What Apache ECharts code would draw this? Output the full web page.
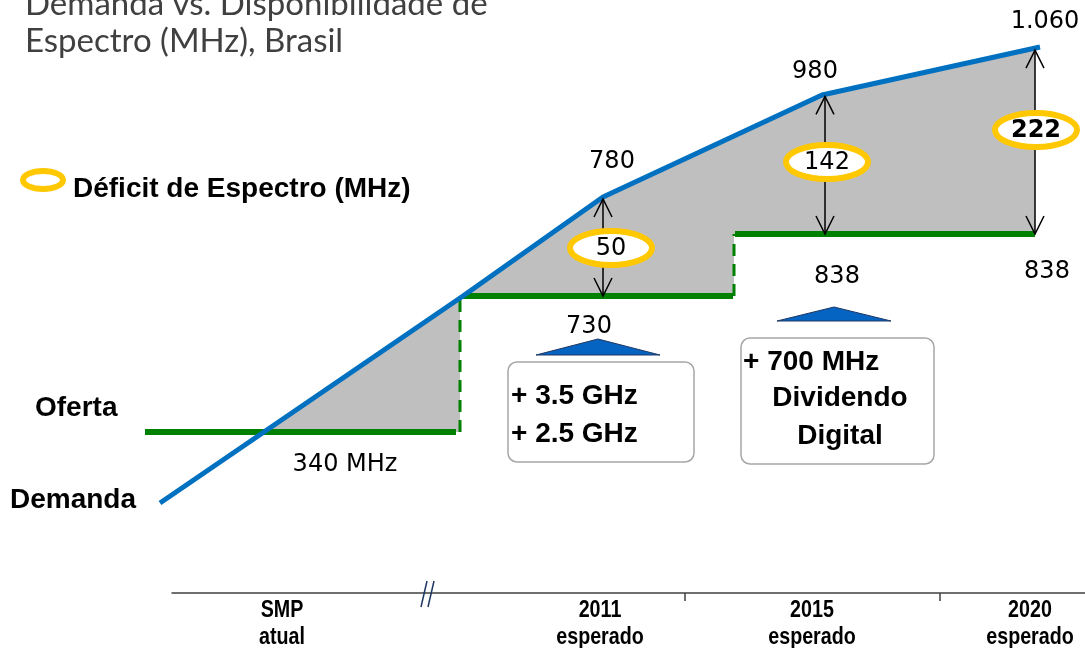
<!DOCTYPE html>
<html>
<head>
<meta charset="utf-8">
<script src="https://cdn.jsdelivr.net/npm/echarts@6/dist/echarts.min.js"></script>
<style>
  html, body { margin: 0; padding: 0; background: #fff; }
  #chart { width: 1085px; height: 648px; }
</style>
</head>
<body>
<div id="chart"></div>
<script>
// Curva de demanda (eixo esquemático: posição no tempo x nível)
const demandX = [160, 463, 603, 822, 1040];
const demandY = [145, 352, 451, 553, 601];

// Oferta em degraus
const supplyFrom = [145, 463, 735];
const supplyTo = [456, 733, 1035];
const supplyY = [216, 352, 414];
const jumpX = [460, 734];

// Déficit de espectro
const deficitX = [603, 825, 1035];
const deficitValues = [50, 142, 222];
const deficitMarkY = [400, 486, 518];

// Eixo do tempo
const periodX = [282, 600, 812, 1030];
const periodTop = ['SMP', '2011', '2015', '2020'];
const periodBottom = ['atual', 'esperado', 'esperado', 'esperado'];
const periodTicks = [685, 940];

const COLORS = {
    demand: '#0070C0',
    supply: '#008000',
    deficit: '#BFBFBF',
    ring: '#FFC800',
    text: '#000000'
};

const NUM_FONT = '"DejaVu Sans", sans-serif';
const BOLD_FONT = '"Liberation Sans", Arial, sans-serif';

// Interpola a demanda numa posição x
function demandAt(x) {
    for (let i = 0; i < demandX.length - 1; i++) {
        if (x >= demandX[i] && x <= demandX[i + 1]) {
            const t = (x - demandX[i]) / (demandX[i + 1] - demandX[i]);
            return demandY[i] + t * (demandY[i + 1] - demandY[i]);
        }
    }
    return demandY[demandY.length - 1];
}

function supplyAt(x) {
    for (let i = 0; i < supplyFrom.length; i++) {
        if (x >= supplyFrom[i] - 3 && x <= supplyTo[i] + 3) return supplyY[i];
    }
    return supplyY[0];
}

// Polígono cinza entre demanda e oferta
function deficitPolygon() {
    const y0 = supplyY[0];
    const x0 = demandX[0] + (y0 - demandY[0]) / (demandY[1] - demandY[0]) * (demandX[1] - demandX[0]);
    const xEnd = supplyTo[supplyTo.length - 1];
    const pts = [[x0, y0]];
    demandX.forEach((x, i) => {
        if (x > x0 && x < xEnd) pts.push([x, demandY[i]]);
    });
    pts.push([xEnd, demandAt(xEnd)]);
    pts.push([xEnd, supplyY[2]]);
    pts.push([jumpX[1], supplyY[2]]);
    pts.push([jumpX[1], supplyY[1]]);
    pts.push([jumpX[0], supplyY[1]]);
    pts.push([jumpX[0], supplyY[0]]);
    return pts;
}

const chart = echarts.init(document.getElementById('chart'));

function txt(x, y, text, font, opts, extra) {
    return Object.assign({
        type: 'text',
        x: x,
        y: y,
        z: 100,
        style: Object.assign({
            text: text,
            font: font,
            fill: COLORS.text,
            align: 'center',
            verticalAlign: 'middle'
        }, opts || {})
    }, extra || {});
}

function triangle(cx, baseY, halfW, h) {
    return {
        type: 'polygon',
        z: 100,
        shape: { points: [[cx - halfW, baseY], [cx, baseY - h], [cx + halfW, baseY]] },
        style: { fill: '#0563C1', stroke: '#1F3864', lineWidth: 1 }
    };
}

function box(x, y, w, h) {
    return {
        type: 'rect',
        z: 90,
        shape: { x: x, y: y, width: w, height: h, r: 9 },
        style: { fill: '#ffffff', stroke: '#A6A6A6', lineWidth: 1.5 }
    };
}

const ringOffset = [8, 2, 1];

const option = {
    backgroundColor: '#ffffff',
    animation: false,
    grid: [
        { left: 0, right: 0, top: 0, bottom: 0 },
        { left: 172, right: 0, top: 592, height: 1 }
    ],
    xAxis: [
        { type: 'value', min: 0, max: 1085, show: false, gridIndex: 0 },
        {
            type: 'value',
            gridIndex: 1,
            min: 172,
            max: 1085,
            position: 'bottom',
            splitLine: { show: false },
            axisLine: { show: true, lineStyle: { color: '#404040', width: 1.5 } },
            axisTick: {
                show: true,
                customValues: periodTicks,
                length: 8,
                lineStyle: { color: '#404040', width: 1.5 }
            },
            axisLabel: { show: false }
        }
    ],
    yAxis: [
        { type: 'value', min: 0, max: 648, show: false, gridIndex: 0 },
        { type: 'value', min: 0, max: 1, show: false, gridIndex: 1 }
    ],
    series: [
        {
            // Área do déficit
            type: 'custom',
            silent: true,
            z: 1,
            data: [[0, 0]],
            renderItem: (params, api) => ({
                type: 'polygon',
                shape: { points: deficitPolygon().map(p => api.coord(p)) },
                style: { fill: COLORS.deficit }
            })
        },
        {
            // Oferta: degraus
            type: 'custom',
            silent: true,
            z: 3,
            data: supplyFrom.map((x, i) => [x, supplyTo[i], supplyY[i]]),
            renderItem: (params, api) => {
                const a = api.coord([api.value(0), api.value(2)]);
                const b = api.coord([api.value(1), api.value(2)]);
                return {
                    type: 'line',
                    shape: { x1: a[0], y1: a[1], x2: b[0], y2: b[1] },
                    style: { stroke: COLORS.supply, lineWidth: 6 }
                };
            }
        },
        {
            // Oferta: saltos tracejados
            type: 'custom',
            silent: true,
            z: 3,
            data: jumpX.map((x, i) => [x, supplyY[i], supplyY[i + 1]]),
            renderItem: (params, api) => {
                const a = api.coord([api.value(0), api.value(1)]);
                const b = api.coord([api.value(0), api.value(2)]);
                return {
                    type: 'line',
                    shape: { x1: a[0], y1: a[1], x2: b[0], y2: b[1] },
                    style: { stroke: COLORS.supply, lineWidth: 3, lineDash: [12, 8] }
                };
            }
        },
        {
            // Demanda
            type: 'line',
            z: 4,
            data: demandX.map((x, i) => [x, demandY[i]]),
            symbol: 'none',
            lineStyle: { color: COLORS.demand, width: 5 },
            silent: true
        },
        {
            // Setas de déficit
            type: 'custom',
            silent: true,
            z: 5,
            data: deficitX.map(x => [x, demandAt(x) - 2, supplyAt(x)]),
            renderItem: (params, api) => {
                const top = api.coord([api.value(0), api.value(1)]);
                const bot = api.coord([api.value(0), api.value(2)]);
                const hw = 9, hh = 18;
                const st = { stroke: '#000', lineWidth: 1.5, fill: null };
                return {
                    type: 'group',
                    children: [
                        { type: 'line', shape: { x1: top[0], y1: top[1], x2: bot[0], y2: bot[1] }, style: st },
                        { type: 'polyline', shape: { points: [[top[0] - hw, top[1] + hh], [top[0], top[1]], [top[0] + hw, top[1] + hh]] }, style: st },
                        { type: 'polyline', shape: { points: [[bot[0] - hw, bot[1] - hh], [bot[0], bot[1]], [bot[0] + hw, bot[1] - hh]] }, style: st }
                    ]
                };
            }
        },
        {
            // Anéis com o valor do déficit
            type: 'custom',
            silent: true,
            z: 6,
            data: deficitX.map((x, i) => [x + ringOffset[i], deficitMarkY[i], deficitValues[i]]),
            renderItem: (params, api) => {
                const c = api.coord([api.value(0), api.value(1)]);
                const bold = params.dataIndex === 2;
                return {
                    type: 'group',
                    children: [
                        {
                            type: 'ellipse',
                            shape: { cx: c[0], cy: c[1], rx: 41, ry: 17 },
                            style: { fill: '#ffffff', stroke: COLORS.ring, lineWidth: 6 }
                        },
                        {
                            type: 'text',
                            x: c[0],
                            y: c[1] + 1,
                            style: {
                                text: String(api.value(2)),
                                font: (bold ? 'bold ' : '') + '24px ' + NUM_FONT,
                                fill: '#000',
                                align: 'center',
                                verticalAlign: 'middle'
                            }
                        }
                    ]
                };
            }
        },
        {
            // série vazia para o segundo grid
            type: 'line',
            xAxisIndex: 1,
            yAxisIndex: 1,
            data: [],
            silent: true
        }
    ]
};

chart.setOption(option);

// Rótulos do eixo do tempo (fonte estreita simulada), posicionados pela escala do eixo
const axisLabels = [];
periodX.forEach((v, i) => {
    const px = chart.convertToPixel({ xAxisIndex: 1 }, v);
    const narrow = { scaleX: 0.82, originX: 0 };
    axisLabels.push(txt(px, 610, periodTop[i], 'bold 24px ' + BOLD_FONT, null, narrow));
    axisLabels.push(txt(px, 637, periodBottom[i], 'bold 24px ' + BOLD_FONT, null, narrow));
});

chart.setOption({
    graphic: [
        // Título
        txt(25, 4, 'Demanda vs. Disponibilidade de', '33px Lato, "Open Sans", sans-serif', { align: 'left', fill: '#404040' }),
        txt(25, 41, 'Espectro (MHz), Brasil', '33px Lato, "Open Sans", sans-serif', { align: 'left', fill: '#404040' }),
        // Legenda do déficit
        {
            type: 'ellipse',
            z: 100,
            shape: { cx: 43, cy: 180, rx: 20, ry: 9 },
            style: { fill: '#ffffff', stroke: COLORS.ring, lineWidth: 6 }
        },
        txt(73, 189, 'Déficit de Espectro (MHz)', 'bold 28px ' + BOLD_FONT, { align: 'left' }),
        txt(35, 408, 'Oferta', 'bold 28px ' + BOLD_FONT, { align: 'left' }),
        txt(10, 500, 'Demanda', 'bold 28px ' + BOLD_FONT, { align: 'left' }),
        // Valores
        txt(345, 465, '340 MHz', '24px ' + NUM_FONT),
        txt(589, 327, '730', '24px ' + NUM_FONT),
        txt(612, 162, '780', '24px ' + NUM_FONT),
        txt(815, 72, '980', '24px ' + NUM_FONT),
        txt(1045, 22, '1.060', '24px ' + NUM_FONT),
        txt(837, 277, '838', '24px ' + NUM_FONT),
        txt(1047, 272, '838', '24px ' + NUM_FONT),
        // Triângulos e caixas
        triangle(598, 355, 62, 16),
        triangle(834, 321, 57, 14),
        box(508, 362, 186, 100),
        box(741, 338, 193, 126),
        txt(511, 396, '+ 3.5 GHz', 'bold 28px ' + BOLD_FONT, { align: 'left' }),
        txt(511, 434, '+ 2.5 GHz', 'bold 28px ' + BOLD_FONT, { align: 'left' }),
        txt(743, 362, '+ 700 MHz', 'bold 28px ' + BOLD_FONT, { align: 'left' }),
        txt(840, 398, 'Dividendo', 'bold 28px ' + BOLD_FONT),
        txt(840, 436, 'Digital', 'bold 28px ' + BOLD_FONT),
        // Quebra do eixo
        {
            type: 'line', z: 100,
            shape: { x1: 421, y1: 607, x2: 427, y2: 581 },
            style: { stroke: '#1F3864', lineWidth: 1.5 }
        },
        {
            type: 'line', z: 100,
            shape: { x1: 428, y1: 607, x2: 434, y2: 581 },
            style: { stroke: '#1F3864', lineWidth: 1.5 }
        }
    ].concat(axisLabels)
});

window.addEventListener('resize', () => chart.resize());
</script>
</body>
</html>
